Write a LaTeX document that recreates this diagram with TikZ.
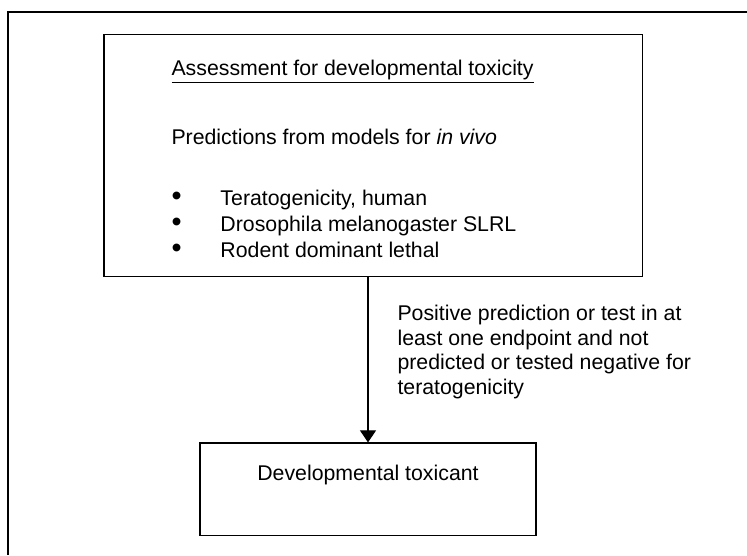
\documentclass[tikz,border=0pt]{standalone}
\usepackage{fontspec}
\setmainfont{Liberation Sans}
\usetikzlibrary{arrows.meta}
\newcommand{\bigbullet}{\makebox[27.6pt][l]{\raisebox{-0.4pt}{\scalebox{1.35}{\textbullet}}}}
\begin{document}
\begin{tikzpicture}[x=0.5637pt,y=-0.5637pt,line width=0.6pt,font=\fontsize{12}{13.8}\selectfont]
      \useasboundingbox (0,0) rectangle (747,555);
      \draw (747,12) -- (8,12) -- (8,555);
      \node[draw,inner sep=0pt,minimum width=303.3pt,minimum height=135.9pt] (assess) at (373,155.5) {};
      \node[draw,inner sep=0pt,minimum width=189.4pt,minimum height=51.9pt] (toxicant) at (368,489) {};
      \node[anchor=base west,inner sep=0pt] (title) at (171,75) {\underline{Assessment for developmental toxicity}};
      \node[anchor=base west,inner sep=0pt] (models) at (171,144) {Predictions from models for \textit{in vivo}};
      \node[anchor=base west,inner sep=0pt] (terato) at (171,205) {\bigbullet Teratogenicity, human};
      \node[anchor=base west,inner sep=0pt] (droso) at (171,231) {\bigbullet Drosophila melanogaster SLRL};
      \node[anchor=base west,inner sep=0pt] (rodent) at (171,257) {\bigbullet Rodent dominant lethal};
      \node[anchor=base,inner sep=0pt] (devtox) at (368,480) {Developmental toxicant};
      \draw[-{Triangle[width=9pt,length=6.8pt]}] (assess.south -| toxicant.north) -- (toxicant.north);
      \node[anchor=west,align=left,inner sep=0pt] (cond) at (397,352) {Positive prediction or test in at\\least one endpoint and not\\predicted or tested negative for\\teratogenicity};
\end{tikzpicture}
\end{document}
